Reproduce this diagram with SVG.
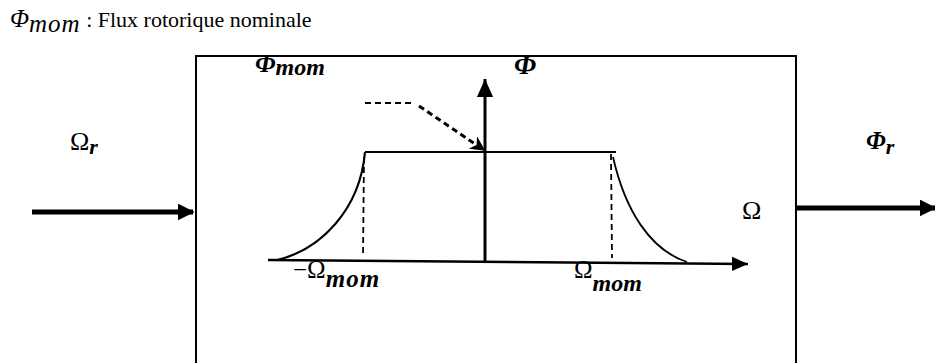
<svg xmlns="http://www.w3.org/2000/svg" width="935" height="363" viewBox="0 0 935 363">
<defs>
<style>
text{font-family:"Liberation Serif","DejaVu Serif",serif;fill:#000}
.it{font-style:italic}
.bi{font-style:italic;font-weight:bold}
.ln{stroke:#000;fill:none}
.dash{stroke:#000;fill:none;stroke-dasharray:6 4}
</style>
<marker id="ah" viewBox="0 0 10 10" refX="9" refY="5" markerWidth="3.4" markerHeight="3.4" markerUnits="strokeWidth" orient="auto"><path d="M0,0 L10,5 L0,10 z" fill="#000"/></marker>
<marker id="ahd" viewBox="0 0 10 10" refX="9" refY="5" markerWidth="5" markerHeight="5" markerUnits="strokeWidth" orient="auto"><path d="M0,0 L10,5 L0,10 L3,5 z" fill="#000"/></marker>
<marker id="ah2" viewBox="0 0 10 10" refX="10" refY="5" markerWidth="6.4" markerHeight="6.4" markerUnits="strokeWidth" orient="auto"><path d="M0,0.5 L10,5 L0,9.5 z" fill="#000"/></marker>
<marker id="ah3" viewBox="0 0 10 10" refX="10" refY="5" markerWidth="6" markerHeight="6" markerUnits="strokeWidth" orient="auto"><path d="M0,0.5 L10,5 L0,9.5 z" fill="#000"/></marker>
</defs>
<g id="legend">
<text x="10" y="27" font-size="22"><tspan class="it" font-size="25">Φ</tspan><tspan class="it" font-size="25" letter-spacing="1" dy="5">mom</tspan><tspan dy="-5" font-size="22"> : Flux rotorique nominale</tspan></text>
</g>
<g id="block">
<path class="ln" stroke-width="2" d="M196,363 V56 H796 V363"/>
<text x="255" y="72" font-size="26" class="bi">Φ<tspan font-size="24" dy="3">mom</tspan></text>
<text x="514" y="74" font-size="28" class="bi">Φ</text>
<text x="742" y="219" font-size="26">Ω</text>
<text x="293" y="278" font-size="25">−Ω<tspan class="bi" font-size="25" letter-spacing="1" dy="9">mom</tspan></text>
<text x="574" y="278" font-size="25">Ω<tspan class="bi" font-size="24" dy="13">mom</tspan></text>
<g id="chart">
<path class="ln" stroke-width="2.5" d="M268,260 L748,264" marker-end="url(#ah2)"/>
<path class="ln" stroke-width="3" d="M485,262 V79" marker-end="url(#ah3)"/>
<path class="ln" stroke-width="2" d="M365,152 H616"/>
<path class="ln" stroke-width="2.2" d="M365,152 C360,210 320,250 277,260"/>
<path class="ln" stroke-width="1.8" d="M613,157 C625,210 650,250 687,262"/>
<path class="dash" stroke-width="1.8" d="M364,157 L363,257"/>
<path class="dash" stroke-width="1.8" d="M611,154 L612,258"/>
<path class="dash" stroke-width="2" d="M365,103 H413"/>
<path class="dash" stroke-width="3" stroke-dasharray="9 6" d="M419,106 L484,150" marker-end="url(#ahd)"/>
</g>
</g>
<g id="connectors">
<path class="ln" stroke-width="5" d="M32,212 H193" marker-end="url(#ah)"/>
<path class="ln" stroke-width="5" d="M797,208 H935" marker-end="url(#ah)"/>
</g>
<g id="labels">
<text x="70" y="150" font-size="26">Ω<tspan class="bi" font-size="22" dy="4">r</tspan></text>
<text x="866" y="149" font-size="25" class="bi">Φ<tspan font-size="22" dy="5">r</tspan></text>
</g>
</svg>
